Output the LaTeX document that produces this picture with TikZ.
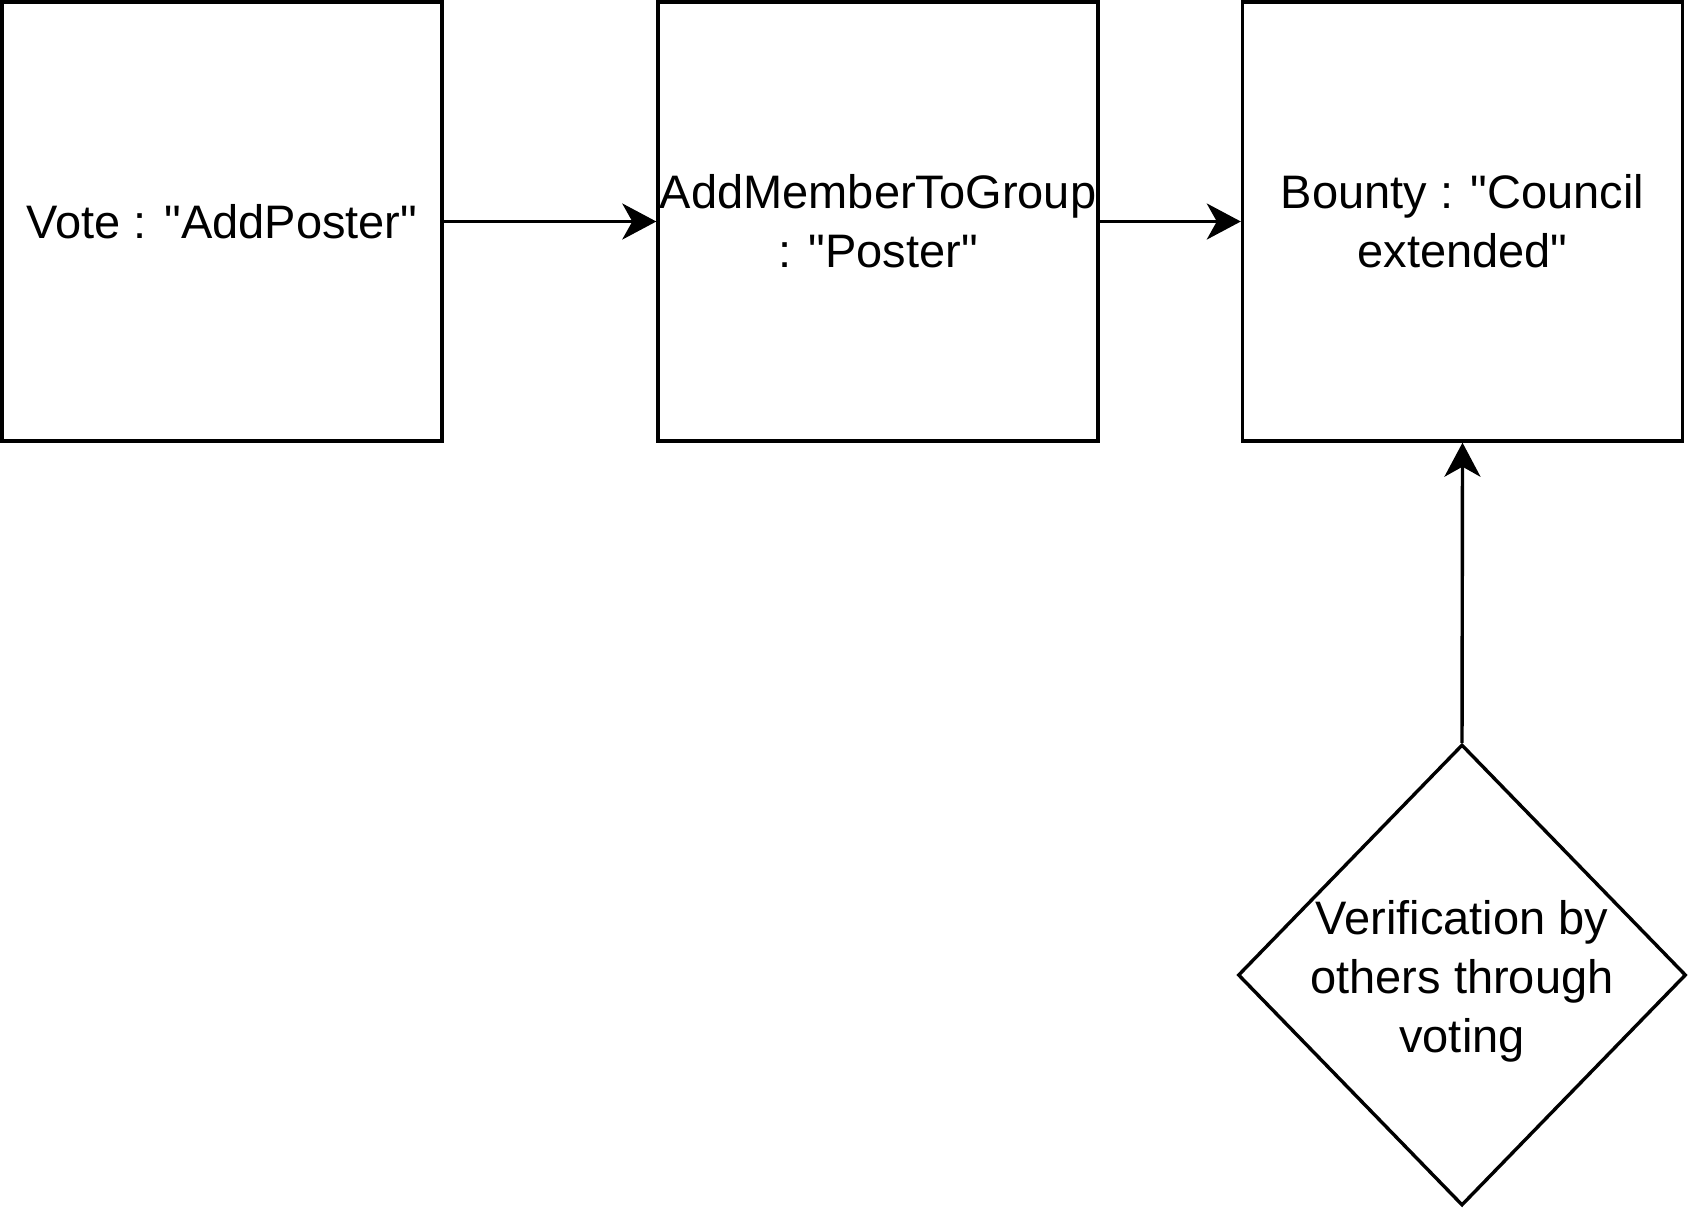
\documentclass[tikz,border=0pt]{standalone}
\usepackage{fontspec}
\setmainfont{Liberation Sans}
\usetikzlibrary{arrows.meta,shapes.geometric}
\newcommand{\dq}{\textquotedbl}
\begin{document}
\begin{tikzpicture}[x=1pt,y=-1pt,
  box/.style={draw, line width=3.4pt, minimum width=440pt, minimum height=439pt, inner sep=0pt, align=center, font=\fontsize{47}{59}\selectfont},
  conn/.style={line width=3.4pt, -{Stealth[length=34pt, width=36pt, inset=10pt]}},
  dtxt/.style={align=center, inner sep=0pt, font=\fontsize{47}{59}\selectfont}]
\useasboundingbox (0,0) rectangle (1688,1208);
\node[box] (vote) at (222,221.5) {Vote : \dq AddPoster\dq};
\node[box] (add) at (878,221.5) {\makebox[0pt]{AddMemberToGroup}\\: \dq Poster\dq};
\node[box] (bounty) at (1462.5,221.5) {Bounty : \dq Council\\extended\dq};
\node[draw, diamond, line width=3.4pt, minimum width=448pt, minimum height=461pt, inner sep=0pt] (verif) at (1462,975) {};
\node[dtxt] (verift) at ([yshift=-6pt]verif.center) {Verification by\\others through\\voting};
\draw[conn] (vote.east) -- (add.west);
\draw[conn] (add.east) -- (bounty.west);
\draw[conn] (verif.north) -- (bounty.south);
\end{tikzpicture}
\end{document}
